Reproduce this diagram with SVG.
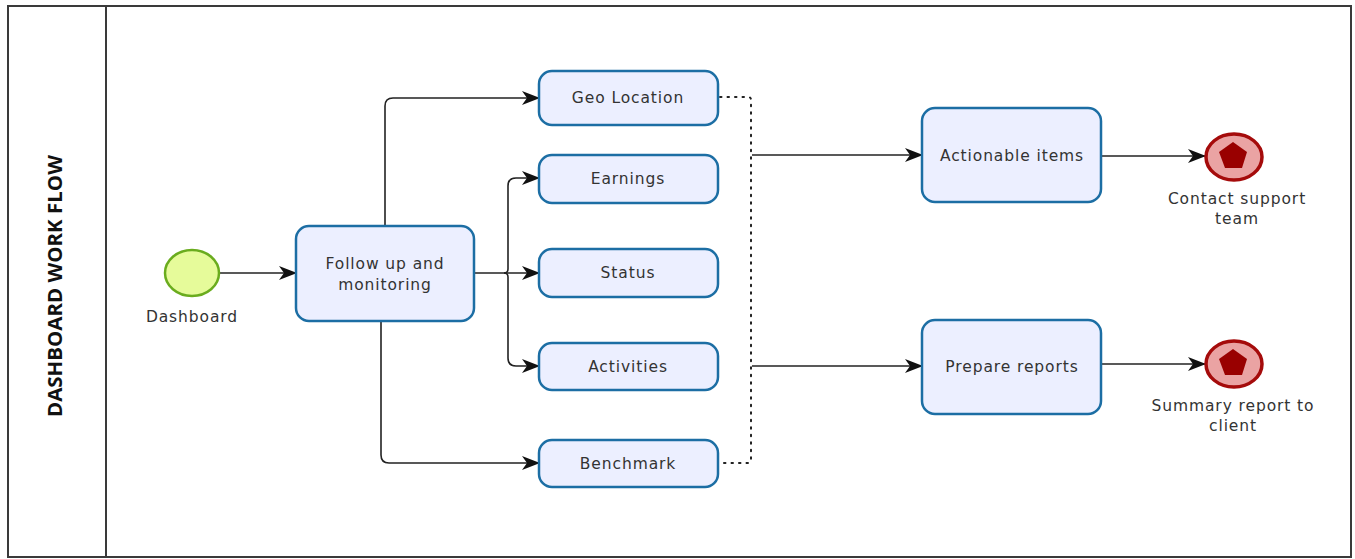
<svg xmlns="http://www.w3.org/2000/svg" width="1355" height="559" viewBox="0 0 1355 559">
  <style>
    .frame { fill: none; stroke: #3a3a3a; stroke-width: 2; }
    .task { fill: #ecefff; stroke: #1c6ea4; stroke-width: 2.5; }
    .lbl { font-family: "DejaVu Sans", "Open Sans", sans-serif; font-size: 15.5px; fill: #333; text-anchor: middle; letter-spacing: 0.9px; }
    .title { font-family: "Open Sans", "DejaVu Sans", sans-serif; font-size: 19px; font-weight: bold; fill: #111; text-anchor: middle; }
    .flow { fill: none; stroke: #222; stroke-width: 1.6; }
    .assoc { fill: none; stroke: #222; stroke-width: 2; stroke-dasharray: 1.5 6; stroke-linecap: round; }
    .start { fill: #e6fb9a; stroke: #6aac1e; stroke-width: 2.5; }
    .end { fill: #eaa3a3; stroke: #a50b0b; stroke-width: 3.5; }
    .endmark { fill: #990000; }
  </style>
  <defs>
    <marker id="arrow" viewBox="0 0 18 14" markerWidth="18" markerHeight="14" refX="17" refY="7" orient="auto" markerUnits="userSpaceOnUse">
      <path d="M0,0 L18,7 L0,14 L5,7 z" fill="#111"/>
    </marker>
  </defs>

  <rect width="1355" height="559" fill="#ffffff"/>

  <!-- pool and lane -->
  <g id="pool">
    <rect class="frame" x="8" y="6" width="1343" height="551"/>
    <line class="frame" x1="106" y1="6" x2="106" y2="557"/>
    <text class="title" transform="translate(62,286) rotate(-90)" textLength="262" lengthAdjust="spacingAndGlyphs">DASHBOARD WORK FLOW</text>
  </g>

  <!-- connectors -->
  <g id="connectors">
    <path class="flow" d="M219,273 H296" marker-end="url(#arrow)"/>
    <path class="flow" d="M385,226 V106 Q385,98 393,98 H539" marker-end="url(#arrow)"/>
    <path class="flow" d="M381,321 V455 Q381,463 389,463 H539" marker-end="url(#arrow)"/>
    <path class="flow" d="M474,273 H539" marker-end="url(#arrow)"/>
    <path class="flow" d="M504,273 Q508,273 508,269 V186 Q508,178 516,178 H539" marker-end="url(#arrow)"/>
    <path class="flow" d="M504,273 Q508,273 508,277 V358 Q508,366 516,366 H539" marker-end="url(#arrow)"/>
    <path class="assoc" d="M720,97 H748 Q751,97 751,100 V460 Q751,463 748,463 H720"/>
    <path class="flow" d="M752,155 H922" marker-end="url(#arrow)"/>
    <path class="flow" d="M752,366 H922" marker-end="url(#arrow)"/>
    <path class="flow" d="M1101,156 H1205" marker-end="url(#arrow)"/>
    <path class="flow" d="M1101,364 H1205" marker-end="url(#arrow)"/>
  </g>

  <!-- start event -->
  <g id="start-dashboard">
    <ellipse class="start" cx="192" cy="273" rx="27" ry="23"/>
    <text class="lbl" x="192" y="322">Dashboard</text>
  </g>

  <g id="task-follow-up">
    <rect class="task" x="296" y="226" width="178" height="95" rx="13"/>
    <text class="lbl" x="385" y="269">Follow up and</text>
    <text class="lbl" x="385" y="290">monitoring</text>
  </g>

  <g id="task-geo-location">
    <rect class="task" x="539" y="71" width="179" height="54" rx="13"/>
    <text class="lbl" x="628" y="103">Geo Location</text>
  </g>

  <g id="task-earnings">
    <rect class="task" x="539" y="155" width="179" height="48" rx="13"/>
    <text class="lbl" x="628" y="184">Earnings</text>
  </g>

  <g id="task-status">
    <rect class="task" x="539" y="249" width="179" height="48" rx="13"/>
    <text class="lbl" x="628" y="278">Status</text>
  </g>

  <g id="task-activities">
    <rect class="task" x="539" y="343" width="179" height="47" rx="13"/>
    <text class="lbl" x="628" y="372">Activities</text>
  </g>

  <g id="task-benchmark">
    <rect class="task" x="539" y="440" width="179" height="47" rx="13"/>
    <text class="lbl" x="628" y="469">Benchmark</text>
  </g>

  <g id="task-actionable-items">
    <rect class="task" x="922" y="108" width="179" height="94" rx="13"/>
    <text class="lbl" x="1012" y="161">Actionable items</text>
  </g>

  <g id="task-prepare-reports">
    <rect class="task" x="922" y="320" width="179" height="94" rx="13"/>
    <text class="lbl" x="1012" y="372">Prepare reports</text>
  </g>

  <!-- end events -->
  <g id="end-contact-support">
    <ellipse class="end" cx="1234" cy="157" rx="28" ry="23"/>
    <polygon class="endmark" points="1233,142 1247,152 1242,168 1225,168 1219,152"/>
    <text class="lbl" x="1237" y="204">Contact support</text>
    <text class="lbl" x="1237" y="224">team</text>
  </g>

  <g id="end-summary-report">
    <ellipse class="end" cx="1234" cy="364" rx="28" ry="23"/>
    <polygon class="endmark" points="1233,349 1247,359 1242,375 1225,375 1219,359"/>
    <text class="lbl" x="1233" y="411">Summary report to</text>
    <text class="lbl" x="1233" y="431">client</text>
  </g>
</svg>
